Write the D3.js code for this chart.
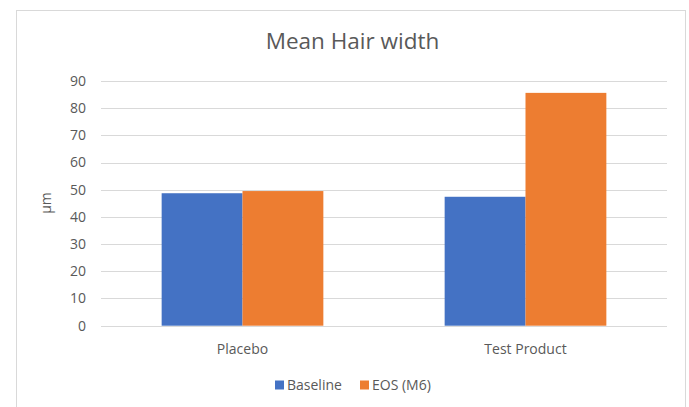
<!DOCTYPE html>
<html>
<head>
<meta charset="utf-8">
<script src="https://cdn.jsdelivr.net/npm/d3@7"></script>
<style>
  html, body { margin: 0; padding: 0; background: #fff; }
  svg { display: block; }
  text { font-family: "Open Sans", "Noto Sans", sans-serif; fill: #595959; }
</style>
</head>
<body>
<svg id="chart" width="689" height="407"></svg>
<script>
const categories = ["Placebo", "Test Product"];
const seriesNames = ["Baseline", "EOS (M6)"];
const baselineValues = [48.7, 47.4];
const eosValues = [49.5, 85.6];
const yTicks = [0, 10, 20, 30, 40, 50, 60, 70, 80, 90];
const colors = ["#4472C4", "#ED7D31"];
const chartTitle = "Mean Hair width";
const yAxisTitle = "µm";

const svg = d3.select("#chart");
const W = 689, H = 407;
const margin = { left: 101, right: 22, top: 80.9, bottom: 81.3 };

// chart border
svg.append("rect")
  .attr("x", 16.5).attr("y", 10.5)
  .attr("width", 669).attr("height", 410)
  .attr("fill", "#fff").attr("stroke", "#d9d9d9").attr("stroke-width", 1);

const x0 = d3.scaleBand()
  .domain(categories)
  .range([margin.left, W - margin.right])
  .paddingInner(0.4286).paddingOuter(0.2143);
const x1 = d3.scaleBand()
  .domain(seriesNames)
  .range([0, x0.bandwidth()]);
const y = d3.scaleLinear()
  .domain([0, 90])
  .range([H - margin.bottom, margin.top]);

// gridlines
svg.append("g").selectAll("line")
  .data(yTicks)
  .join("line")
  .attr("x1", margin.left).attr("x2", W - margin.right)
  .attr("y1", d => Math.round(y(d)) + 0.5).attr("y2", d => Math.round(y(d)) + 0.5)
  .attr("stroke", "#d9d9d9").attr("stroke-width", 1);

// y axis labels
const yAxis = d3.axisLeft(y).tickValues(yTicks).tickSize(0).tickPadding(0);
const gy = svg.append("g")
  .attr("transform", `translate(${margin.left - 15},0)`)
  .call(yAxis);
gy.select(".domain").remove();
gy.selectAll("text").style("font-size", "14px").attr("fill", "#595959")
  .style("font-family", '"Open Sans", sans-serif');

// bars
const data = categories.map((c, i) => ({ cat: c, vals: [baselineValues[i], eosValues[i]] }));
const groups = svg.append("g").selectAll("g")
  .data(data)
  .join("g")
  .attr("transform", d => `translate(${x0(d.cat)},0)`);
groups.selectAll("rect")
  .data(d => d.vals.map((v, j) => ({ name: seriesNames[j], v, j })))
  .join("rect")
  .attr("x", d => x1(d.name))
  .attr("width", x1.bandwidth())
  .attr("y", d => y(d.v))
  .attr("height", d => y(0) - y(d.v))
  .attr("fill", d => colors[d.j]);

// x axis labels
const xAxis = d3.axisBottom(x0).tickSize(0).tickPadding(0);
const gx = svg.append("g")
  .attr("transform", `translate(0,${y(0) + 23})`)
  .call(xAxis);
gx.select(".domain").remove();
gx.selectAll("text").style("font-size", "14px").attr("fill", "#595959")
  .attr("dy", "0.35em")
  .style("font-family", '"Open Sans", sans-serif');

// title
svg.append("text")
  .attr("x", 352.5).attr("y", 49)
  .attr("text-anchor", "middle")
  .style("font-size", "22.5px")
  .text(chartTitle);

// y axis title
svg.append("text")
  .attr("transform", "translate(46,203) rotate(-90)")
  .attr("text-anchor", "middle")
  .attr("dy", "0.35em")
  .style("font-size", "14px")
  .text(yAxisTitle);

// legend
const legendItems = [
  { name: seriesNames[0], color: colors[0], x: 275 },
  { name: seriesNames[1], color: colors[1], x: 360 }
];
const lg = svg.append("g").selectAll("g")
  .data(legendItems)
  .join("g")
  .attr("transform", d => `translate(${d.x},385)`);
lg.append("rect")
  .attr("x", 0).attr("y", -4.5).attr("width", 9).attr("height", 9)
  .attr("fill", d => d.color);
lg.append("text")
  .attr("x", 12).attr("dy", "0.35em")
  .style("font-size", "14px")
  .text(d => d.name);
</script>
</body>
</html>
